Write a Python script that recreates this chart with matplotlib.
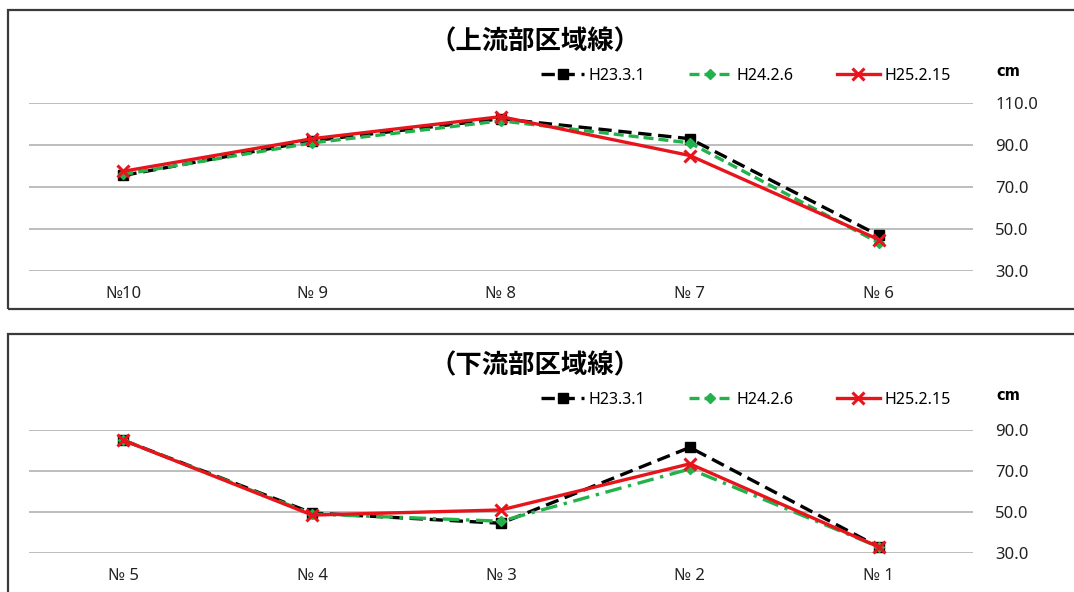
import matplotlib.pyplot as plt
from matplotlib.lines import Line2D
from matplotlib.patches import Rectangle

plt.rcParams['font.family'] = ['Noto Sans', 'Noto Sans CJK JP', 'DejaVu Sans']

# upstream section (No.10 -> No.6)
up_points = ['№10', '№ 9', '№ 8', '№ 7', '№ 6']
up_h23 = [75.5, 92.0, 102.5, 93.0, 47.0]
up_h24 = [76.0, 91.0, 101.5, 91.0, 43.5]
up_h25 = [77.5, 93.0, 103.5, 85.0, 45.0]
up_ticks = [30, 50, 70, 90, 110]

# downstream section (No.5 -> No.1)
dn_points = ['№ 5', '№ 4', '№ 3', '№ 2', '№ 1']
dn_h23 = [85.0, 49.5, 44.5, 81.5, 33.0]
dn_h24 = [85.0, 49.0, 45.5, 71.0, 33.0]
dn_h25 = [85.0, 48.5, 51.0, 73.5, 33.0]
dn_ticks = [30, 50, 70, 90]

series_names = ['H23.3.1', 'H24.2.6', 'H25.2.15']

BLACK = '#000000'
GREEN = '#22b24c'
RED = '#e8141c'
GRID = '#bdbdbd'

W, H = 1074, 592
fig = plt.figure(figsize=(W / 100, H / 100), dpi=100)


def fx(px):
    return px / W


def fy(py):
    return 1 - py / H


def panel(box_top, box_bottom, ax_top, ax_bottom, points, h23, h24, h25,
          ticks, title, green_dash):
    fig.patches.append(Rectangle((fx(8), fy(box_bottom)), fx(1100 - 8),
                                 fy(box_top) - fy(box_bottom),
                                 transform=fig.transFigure, fill=False,
                                 edgecolor='#3a3a3a', lw=1.6))
    ax = fig.add_axes([fx(29), fy(ax_bottom), fx(973 - 29), fy(ax_top) - fy(ax_bottom)])
    x = range(len(points))
    ax.plot(x, h23, color=BLACK, lw=2.4, dashes=(4, 2), marker='s', ms=7,
            clip_on=False, zorder=3)
    ax.plot(x, h24, color=GREEN, lw=2.4, dashes=green_dash, marker='D', ms=5.5,
            clip_on=False, zorder=4)
    ax.plot(x, h25, color=RED, lw=2.4, marker='x', ms=8, mew=2.2,
            clip_on=False, zorder=5)
    ax.set_xlim(-0.5, len(points) - 0.5)
    ax.set_ylim(ticks[0], ticks[-1])
    ax.set_yticks(ticks)
    ax.set_yticklabels([f'{t:.1f}' for t in ticks])
    ax.yaxis.tick_right()
    ax.set_xticks(list(x))
    ax.set_xticklabels(points)
    ax.tick_params(length=0, labelsize=12, colors='#222222')
    ax.tick_params(axis='y', pad=16)
    ax.tick_params(axis='x', pad=11)
    for s in ax.spines.values():
        s.set_visible(False)
    ax.grid(axis='y', color=GRID, lw=1.4)
    ax.set_axisbelow(True)

    fig.text(fx(535), fy(box_top + 32), title, ha='center', va='center',
             fontsize=19, fontweight='bold')
    fig.text(fx(1008), fy(box_top + 61), 'cm', ha='center', va='center',
             fontsize=10.5, fontweight='bold', family='DejaVu Sans')

    handles = [
        Line2D([], [], color=BLACK, lw=2.4, dashes=(4, 2), marker='s', ms=7),
        Line2D([], [], color=GREEN, lw=2.4, dashes=(3, 1.5), marker='D', ms=5.5),
        Line2D([], [], color=RED, lw=2.4, marker='x', ms=8, mew=2.2),
    ]
    fig.legend(handles, series_names, loc='center',
               bbox_to_anchor=(fx(746), fy(box_top + 66)), ncol=3,
               frameon=False, fontsize=11.5, handlelength=2.7,
               handletextpad=0.3, columnspacing=2.7)
    return ax


panel(10, 309, 103, 271, up_points, up_h23, up_h24, up_h25, up_ticks,
      '（上流部区域線）', (3, 1.5))
panel(334, 620, 430, 553, dn_points, dn_h23, dn_h24, dn_h25, dn_ticks,
      '（下流部区域線）', (5, 2, 1, 2))

fig.savefig('out.png', dpi=100)
